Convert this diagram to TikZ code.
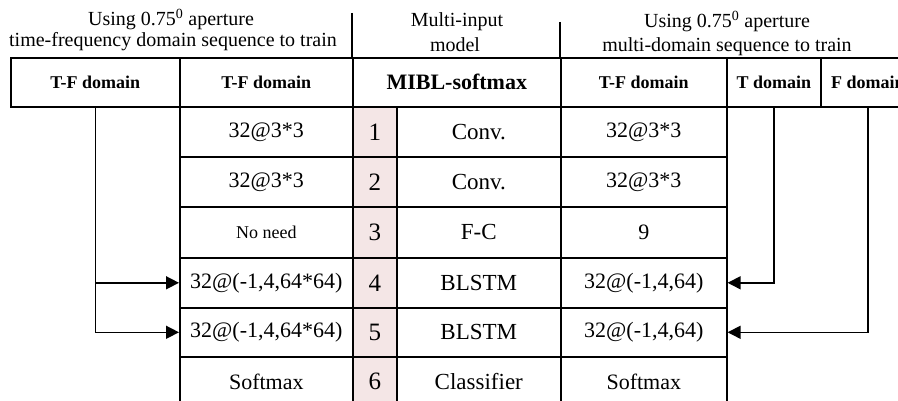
\documentclass[tikz,border=0pt]{standalone}
\usepackage{fontspec}
\setmainfont{Liberation Serif}
\usetikzlibrary{arrows.meta}
\definecolor{layerpink}{HTML}{F4E6E6}
\tikzset{
  every picture/.style={x=1pt,y=-1pt},
  cell/.style={draw, line width=1.6pt, inner sep=0pt, anchor=north west, font=\fontsize{22}{24}\selectfont},
  headcell/.style={cell, font=\fontsize{18}{20}\selectfont\bfseries, minimum height=49pt},
  numcell/.style={cell, fill=layerpink, minimum width=44pt, font=\fontsize{25}{27}\selectfont},
  midcell/.style={cell, minimum width=164pt, font=\fontsize{23}{25}\selectfont},
  toptext/.style={anchor=base, inner sep=0pt, font=\fontsize{20}{22}\selectfont},
  feed/.style={line width=1.5pt, -{Triangle[length=13pt,width=13pt]}},
  sep/.style={line width=1.6pt}
}
\begin{document}
\begin{tikzpicture}
\clip (0,0) rectangle (898,401);

% column captions
\node[toptext] (capL1) at (171,26) {Using 0.75\textsuperscript{0} aperture};
\node[toptext] (capL2) at (173,47) {time-frequency domain sequence to train};
\node[toptext] (capM1) at (457,27) {Multi-input};
\node[toptext] (capM2) at (455,52) {model};
\node[toptext] (capR1) at (727,28) {Using 0.75\textsuperscript{0} aperture};
\node[toptext] (capR2) at (727,52) {multi-domain sequence to train};
\coordinate (s1a) at (352,13);
\coordinate (s1b) at (352,57);
\coordinate (s2a) at (560,22);
\coordinate (s2b) at (560,57);
\draw[sep] (s1a) -- (s1b);
\draw[sep] (s2a) -- (s2b);

% header row
\node[headcell, minimum width=169pt] (h0) at (10,57) {T-F domain};
\node[headcell, minimum width=173pt] (h1) at (179,57) {T-F domain};
\node[headcell, minimum width=208pt, font=\fontsize{22}{24}\selectfont\bfseries] (h2) at (352,57) {MIBL-softmax};
\node[headcell, minimum width=166pt] (h3) at (560,57) {T-F domain};
\node[headcell, minimum width=94pt] (h4) at (726,57) {T domain};
\node[headcell, minimum width=94pt] (h5) at (820,57) {F domain};

% layer rows
\foreach \i/\y/\hgt/\left/\layer/\right in {
  1/106/50/{32@3*3}/{Conv.}/{32@3*3},
  2/156/50/{32@3*3}/{Conv.}/{32@3*3},
  3/206/51/{\fontsize{18}{20}\selectfont No need}/{F-C}/{9},
  4/257/50/{32@(-1,4,64*64)}/{BLSTM}/{32@(-1,4,64)},
  5/307/49/{32@(-1,4,64*64)}/{BLSTM}/{32@(-1,4,64)},
  6/356/50/{Softmax}/{Classifier}/{Softmax}} {
  \node[cell, minimum width=173pt, minimum height=\hgt pt] (l\i) at (179,\y) {\left};
  \node[numcell, minimum height=\hgt pt] (n\i) at (352,\y) {\i};
  \node[midcell, minimum height=\hgt pt] (m\i) at (396,\y) {\layer};
  \node[cell, minimum width=166pt, minimum height=\hgt pt] (r\i) at (560,\y) {\right};
}

% inputs fed into the BLSTM layers
\draw[feed] (h0.south) |- (l4.west);
\draw[feed] (h0.south) |- (l5.west);
\draw[feed] (h4.south) |- (r4.east);
\draw[feed] (h5.south) |- (r5.east);
\end{tikzpicture}
\end{document}
